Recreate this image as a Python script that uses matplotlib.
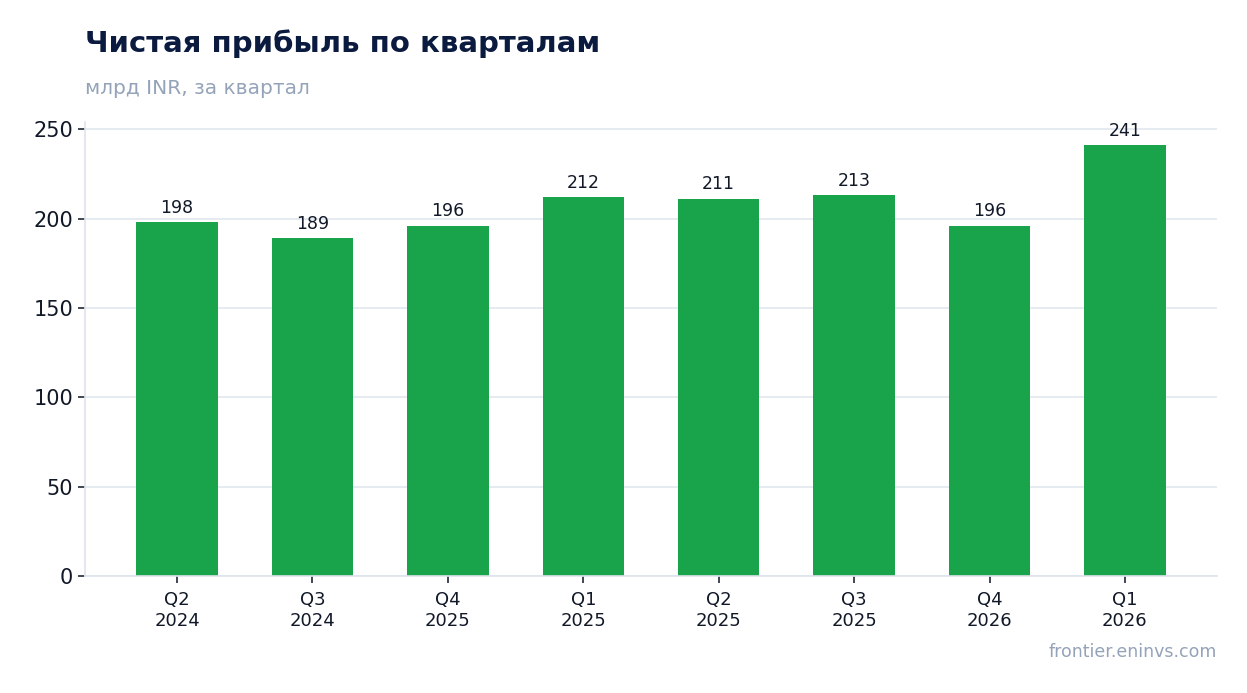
import numpy as np
import matplotlib
matplotlib.use("Agg")
import matplotlib.pyplot as plt

quarters = ["Q2\n2024", "Q3\n2024", "Q4\n2025", "Q1\n2025", "Q2\n2025", "Q3\n2025", "Q4\n2026", "Q1\n2026"]
net_profit = [198, 189, 196, 212, 211, 213, 196, 241]
value_labels = ["198", "189", "196", "212", "211", "213", "196", "241"]

title = "Чистая прибыль по кварталам"
subtitle = "млрд INR, за квартал"
source = "frontier.eninvs.com"

fig = plt.figure(figsize=(12.47, 6.93), dpi=100)
ax = fig.add_axes([85 / 1247, 1 - 576 / 693, 1132 / 1247, (576 - 122) / 693])

x = np.arange(len(quarters))
bars = ax.bar(x, net_profit, width=0.6, color="#19a34a", zorder=2)
for b, lab in zip(bars, value_labels):
    ax.annotate(lab, (b.get_x() + b.get_width() / 2, b.get_height()),
                xytext=(0, 4), textcoords="offset points",
                ha="center", va="bottom", fontsize=12.5, color="#111827")

ax.set_ylim(0, 254)
ax.set_yticks([0, 50, 100, 150, 200, 250])
ax.set_xticks(x)
ax.set_xticklabels(quarters, fontsize=13, color="#111827")
ax.tick_params(axis="y", labelsize=15, colors="#1f2937", length=5, width=1.2)
ax.tick_params(axis="x", colors="#1f2937", length=5, width=1.2, pad=6)
for t in ax.get_yticklabels() + ax.get_xticklabels():
    t.set_color("#111827")
ax.grid(axis="y", color="#e2e8f0", linewidth=1.2, zorder=0)
ax.set_axisbelow(True)
for s in ["top", "right"]:
    ax.spines[s].set_visible(False)
for s in ["left", "bottom"]:
    ax.spines[s].set_color("#dfe3ec")
    ax.spines[s].set_linewidth(1.2)

fig.text(85 / 1247, 1 - 44 / 693, title, fontsize=21, fontweight="bold", color="#0b1a3f", va="center", ha="left")
fig.text(85 / 1247, 1 - 88 / 693, subtitle, fontsize=14.5, color="#94a3b8", va="center", ha="left")
fig.text(1217 / 1247, 1 - 652 / 693, source, fontsize=12.5, color="#94a3b8", va="center", ha="right")

fig.savefig("out.png", dpi=100)
